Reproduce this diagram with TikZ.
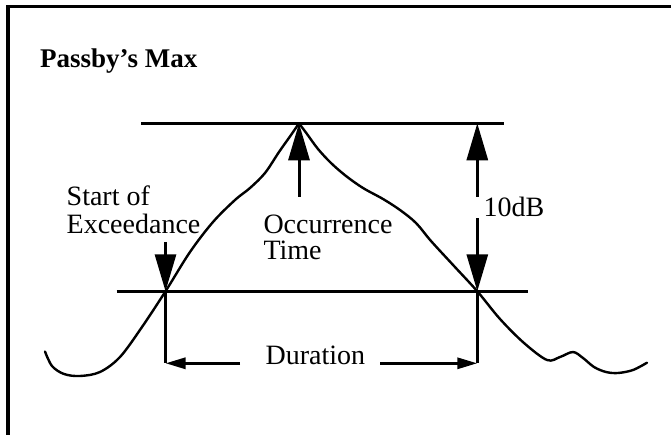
\documentclass[tikz,border=0pt]{standalone}
\usepackage{fontspec}
\setmainfont{Liberation Serif}
\usepackage{tikz}
\usetikzlibrary{
  arrows.meta,
  positioning
}

\tikzset{
  level/.style={line width=3.2pt},
  shaft/.style={line width=3pt},
  curve/.style={line width=2.4pt,line cap=round,line join=round},
  bigtip/.style={-{Triangle[length=37pt,width=21pt]}},
  smalltip/.style={-{Triangle[length=20pt,width=11pt]}}
}

\begin{document}
\begin{tikzpicture}[
    x=1pt, y=-1pt,
    every node/.style={inner sep=0pt,font=\fontsize{28}{28}\selectfont}
  ]
    \useasboundingbox (0,0) rectangle (671,435);
    % border, top and left edges only
    \draw[line width=4pt] (8,435) -- (8,4.9);
    \draw[line width=2.7pt] (6,6.3) -- (671,6.3);

    % key points
    \coordinate (peak)  at (299,123.3);
    \coordinate (sx)    at (165.5,291.3);
    \coordinate (ex)    at (477.3,291.3);
    \coordinate (sfoot) at (165.5,363.3);
    \coordinate (efoot) at (477.3,363.3);

    % max level and 10dB-down level
    \draw[level] (141,123.3) -- (504,123.3);
    \draw[level] (116.5,291.3) -- (528,291.3);

    % passby level curve
    \draw[curve] plot[smooth,tension=0.55] coordinates {
      (45,351.5) (52,366) (64,374) (80,376) (100,372) (120,357)
      (142,327) (sx) (190,252) (213,222) (235,200) (250,188)
      (265,173) (279,152) (291,135) (peak)
    };
    \draw[curve] plot[smooth,tension=0.55] coordinates {
      (peak) (307,134) (318,149) (331,163) (346,176) (363,188)
      (383,199) (400,210) (416,223) (431,241) (454,266) (ex)
      (500,319) (524,343) (547,360) (560,357) (573,352) (583,358)
      (594,367) (606,372) (618,373) (633,370) (647,362.7)
    };

    % drop lines for the duration
    \foreach \p/\q in {sx/sfoot,ex/efoot}
      \draw[shaft] (\p) -- (\q);

    % labels
    \node[anchor=base west,font=\bfseries\fontsize{27}{30}\selectfont]
      (title) at (40,67.7) {Passby’s Max};
    \node[anchor=base west,align=left] (start) at (66.5,233.3)
      {Start of\\Exceedance};
    \node[anchor=base west,align=left,font=\fontsize{28}{26}\selectfont]
      (occ) at (263.3,259.3) {Occurrence\\Time};
    \node[anchor=base west] (tendb) at (483.3,216.7) {10dB};
    \node[anchor=base] (dur) at (315.3,364) {Duration};

    % arrow tails
    \coordinate (stail)  at (165.5,242);
    \coordinate (otail)  at (299,196.7);
    \coordinate (uptail) at (477.3,196.7);
    \coordinate (dntail) at (477.3,218.3);
    \coordinate (ltail)  at (240,363.3);
    \coordinate (rtail)  at (380,363.3);

    % arrows
    \draw[shaft,bigtip] (stail) -- (sx);
    \draw[shaft,bigtip] (otail) -- (peak);
    \draw[shaft,bigtip] (uptail) -- (ex |- peak);
    \draw[shaft,bigtip] (dntail) -- (ex);
    \draw[shaft,smalltip] (ltail) -- (sfoot);
    \draw[shaft,smalltip] (rtail) -- (efoot);
  \end{tikzpicture}
\end{document}
